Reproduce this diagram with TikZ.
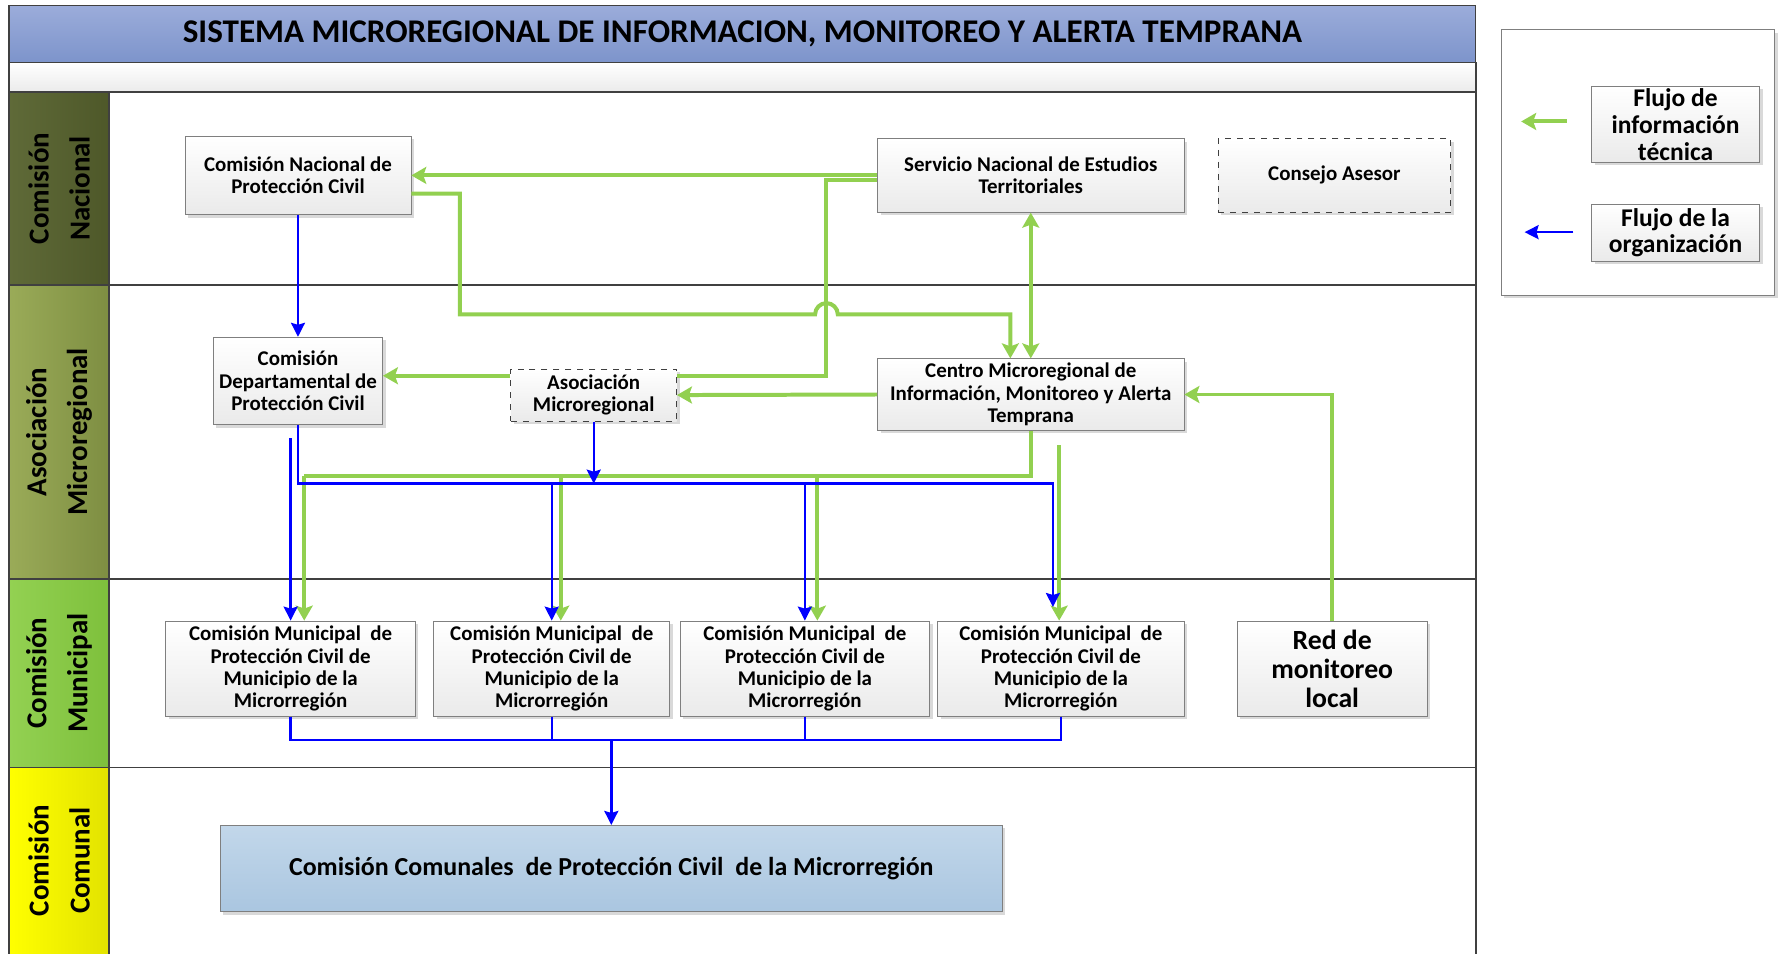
\documentclass[tikz,border=0pt]{standalone}
\usepackage{fontspec}
\setmainfont{Carlito}
\usetikzlibrary{arrows.meta,calc,shadows}
\definecolor{infogreen}{HTML}{92D050}
\definecolor{orgblue}{HTML}{0000FF}
\definecolor{framegray}{HTML}{404040}
\definecolor{boxgray}{HTML}{7F7F7F}
\definecolor{boxshade}{HTML}{EAEAEA}
\definecolor{titletop}{HTML}{9BACDA}
\definecolor{titlebot}{HTML}{7D94CB}
\definecolor{comtop}{HTML}{C2D7EA}
\definecolor{combot}{HTML}{AAC6E0}
\definecolor{nacleft}{HTML}{5F6A38}
\definecolor{nacright}{HTML}{4E5829}
\definecolor{asoleft}{HTML}{9AAB58}
\definecolor{asoright}{HTML}{7E8E42}
\definecolor{munleft}{HTML}{93D152}
\definecolor{munright}{HTML}{7EC03C}
\definecolor{comleft}{HTML}{FFFF00}
\definecolor{comright}{HTML}{E3E300}

\begin{document}
\begin{tikzpicture}[x=0.02cm,y=-0.02cm,
    every node/.style={font=\bfseries\fontsize{10.5}{11.2}\selectfont},
    box/.style={draw=boxgray,top color=white,bottom color=boxshade,align=center,inner sep=1pt,
      drop shadow={shadow xshift=1.5pt,shadow yshift=-1.5pt,fill=black!15,opacity=1}},
    dashbox/.style={box,dashed,draw=framegray},
    info/.style={infogreen,line width=2pt,>={Stealth[length=7.5pt,width=8.5pt,inset=1.5pt]}},
    org/.style={orgblue,line width=1.2pt,>={Stealth[length=7pt,width=7pt,inset=1pt]}},
    lanelabel/.style={rotate=90,align=center,font=\bfseries\fontsize{14.5}{20.5}\selectfont},
    framed/.style={framegray,line width=0.8pt}]
    \useasboundingbox (0,0) rectangle (1568,840);

    \node[draw=framegray,line width=0.8pt,top color=titletop,bottom color=titlebot,minimum width=25.84cm,minimum height=1cm,inner sep=0,
      font=\bfseries\fontsize{16.6}{19}\selectfont] (title) at (654,30) {SISTEMA MICROREGIONAL DE INFORMACION, MONITOREO Y ALERTA TEMPRANA};
    \node[draw=framegray,line width=0.8pt,top color=white,bottom color=black!8,minimum width=25.84cm,minimum height=0.52cm,inner sep=0] (subband) at (654,68) {};

    \shade[left color=nacleft,right color=nacright] (8,81) rectangle (96,251);
    \shade[left color=asoleft,right color=asoright] (8,251) rectangle (96,510);
    \shade[left color=munleft,right color=munright] (8,510) rectangle (96,676);
    \shade[left color=comleft,right color=comright] (8,676) rectangle (96,840);
    \foreach \ya in {81,251,510,676}
      \draw[framed] (8,\ya) -- (1300,\ya);
    \draw[framed] (8,55) -- (8,840);
    \draw[framed] (1300,55) -- (1300,840);
    \draw[framed] (96,81) -- (96,840);
    \node[lanelabel] (nac) at (52,166) {Comisión\\Nacional};
    \node[lanelabel] (aso) at (52,380.5) {Asociación\\Microregional};
    \node[lanelabel] (mun) at (52,593) {Comisión\\Municipal};
    \node[lanelabel] (com) at (52,758) {Comisión\\Comunal};

    \node[box,minimum width=3.98cm,minimum height=1.38cm] (cnpc) at (262.5,154.5) {Comisión Nacional de\\Protección Civil};
    \node[box,minimum width=5.4cm,minimum height=1.3cm] (snet) at (908,154.5) {Servicio Nacional de Estudios\\Territoriales};
    \node[dashbox,minimum width=4.1cm,minimum height=1.3cm] (consejo) at (1175.5,154.5) {Consejo Asesor};
    \node[box,minimum width=2.98cm,minimum height=1.54cm] (cdpc) at (262.5,335.5) {Comisión\\Departamental de\\Protección Civil};
    \node[dashbox,minimum width=2.92cm,minimum height=0.92cm] (asoc) at (523,348) {Asociación\\Microregional};
    \node[box,minimum width=5.4cm,minimum height=1.26cm] (centro) at (908,347.5) {Centro Microregional de\\Información, Monitoreo y Alerta\\Temprana};
    \node[box,minimum width=4.4cm,minimum height=1.68cm] (m1) at (256,589) {Comisión Municipal~ de\\Protección Civil de\\Municipio de la\\Microrregión};
    \node[box,minimum width=4.16cm,minimum height=1.68cm] (m2) at (486,589) {Comisión Municipal~ de\\Protección Civil de\\Municipio de la\\Microrregión};
    \node[box,minimum width=4.4cm,minimum height=1.68cm] (m3) at (709,589) {Comisión Municipal~ de\\Protección Civil de\\Municipio de la\\Microrregión};
    \node[box,minimum width=4.34cm,minimum height=1.68cm] (m4) at (934.5,589) {Comisión Municipal~ de\\Protección Civil de\\Municipio de la\\Microrregión};
    \node[box,minimum width=3.34cm,minimum height=1.68cm,font=\bfseries\fontsize{13.9}{14.6}\selectfont] (red) at (1173.5,589) {Red de\\monitoreo\\local};
    \node[box,top color=comtop,bottom color=combot,minimum width=13.78cm,minimum height=1.52cm,
      font=\bfseries\fontsize{13}{15}\selectfont] (comunal) at (538.5,765) {Comisión Comunales~ de Protección Civil~ de la Microrregión};

    \node[draw=boxgray,fill=white,minimum width=4.82cm,minimum height=4.68cm,
      drop shadow={shadow xshift=1.5pt,shadow yshift=-1.5pt,fill=black!15,opacity=1}] (legend) at (1443,143) {};
    \node[box,minimum width=2.96cm,minimum height=1.34cm,font=\bfseries\fontsize{12.8}{13.5}\selectfont] (lgInfo) at (1476,109.5) {Flujo de\\información\\técnica};
    \node[box,minimum width=2.96cm,minimum height=1cm,font=\bfseries\fontsize{12.8}{13.5}\selectfont] (lgOrg) at (1476,205) {Flujo de la\\organización};
    \coordinate (lgInfoS) at (1380,107);
    \coordinate (lgInfoE) at (1340,107);
    \coordinate (lgOrgS) at (1386,204.5);
    \coordinate (lgOrgE) at (1343,204.5);
    \draw[info,->] (lgInfoS) -- (lgInfoE);
    \draw[org,->] (lgOrgS) -- (lgOrgE);

    % flujo de informacion tecnica
    \draw[info,->] (snet.west) -- (cnpc.east);
    \coordinate (gbend) at (728,331);
    \draw[info] ($(snet.west)+(0,4)$) -| (gbend) -- (asoc.east |- gbend);
    \draw[info,->] (asoc.west |- gbend) -- (cdpc.east |- gbend);
    \draw[info,->] ($(cnpc.east)+(0,16)$) -| (405,277) -- (718,277) arc[start angle=180,end angle=360,radius=10] -| ($(centro.north)+(-18,0)$);
    \draw[info,<->] (snet) -- (centro);
    \draw[info,->] (centro.west) -- (asoc.east);
    \coordinate (gbus) at (0,419);
    \draw[info] (centro.south) |- ($(m1.north |- gbus)+(12,0)$);
    \draw[info,->] ($(m1.north |- gbus)+(12,0)$) -- ($(m1.north)+(12,0)$);
    \draw[info,->] ($(m2.north |- gbus)+(8,0)$) -- ($(m2.north)+(8,0)$);
    \draw[info,->] ($(m3.north |- gbus)+(11,0)$) -- ($(m3.north)+(11,0)$);
    \coordinate (gfree) at (933,392);
    \draw[info,->] (gfree) -- (gfree |- m4.north);
    \draw[info,->] (red.north) |- (centro.east);

    % flujo de la organizacion
    \draw[org,->] (cnpc) -- (cdpc);
    \coordinate (bbus) at (0,426);
    \draw[org,->] (cdpc.south) |- ($(m4.north |- bbus)+(-7,0)$) -- ($(m4.north)+(-7,-12)$);
    \draw[org,->] (m2.north |- bbus) -- (m2.north);
    \draw[org,->] (m3.north |- bbus) -- (m3.north);
    \draw[org,->] (asoc.south) -- (asoc.south |- bbus);
    \coordinate (bfree) at (256,386);
    \draw[org,->] (bfree) -- (m1.north);
    \coordinate (cbus) at (0,652);
    \draw[org] (m1.south) |- (comunal.north |- cbus);
    \draw[org] (m2.south) |- (comunal.north |- cbus);
    \draw[org] (m3.south) |- (comunal.north |- cbus);
    \draw[org] (m4.south) |- (comunal.north |- cbus);
    \draw[org,->] (comunal.north |- cbus) -- (comunal.north);
  \end{tikzpicture}
\end{document}
